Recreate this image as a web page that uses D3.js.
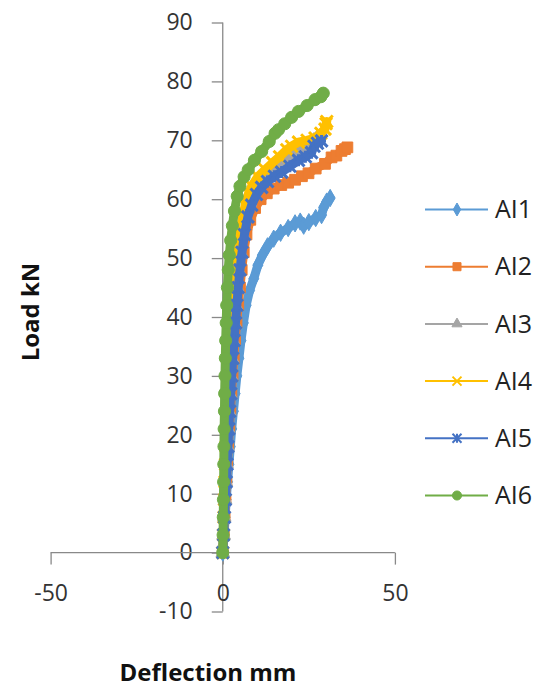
<!DOCTYPE html>
<meta charset="utf-8">
<title>load deflection</title>
<style>

body {
  margin: 0;
  background: #fff;
  font-family: "Open Sans", sans-serif;
}

.axis line {
  stroke: #898989;
  stroke-width: 1.3px;
}

.axis text {
  font-family: "Open Sans", sans-serif;
  font-size: 23px;
  fill: #333;
}

.title {
  font-family: "Open Sans", sans-serif;
  font-weight: bold;
  font-size: 24px;
  fill: #111;
}

.legend text {
  font-family: "Open Sans", sans-serif;
  font-size: 25px;
  fill: #222;
}

</style>
<svg width="536" height="689"></svg>
<script src="https://cdn.jsdelivr.net/npm/d3@7"></script>
<script>

var seriesNames = ["AI1", "AI2", "AI3", "AI4", "AI5", "AI6"];
var colorRange = ["#5B9BD5", "#ED7D31", "#A5A5A5", "#FFC000", "#4472C4", "#70AD47"];

var xTicks = [-50, 0, 50];
var yTicks = [-10, 0, 10, 20, 30, 40, 50, 60, 70, 80, 90];

// [deflection mm, load kN]
var ai1 = [[0,0],[0.4,3],[0.7,6],[1.0,9],[1.4,12],[1.8,15],[2.2,18],[2.6,21],[3.1,24],[3.6,27],[4.1,30],[4.7,33],[5.3,36],[6.0,39],[6.8,42],[7.8,44.5],[9.0,46.5],[10.2,48.8],[11.5,50.5],[13.0,52],[14.8,53.3],[16.8,54.3],[19,55.1],[21,55.9],[22.5,56.2],[23.5,55.5],[25,56.1],[27,56.8],[28.7,57.3],[29.3,58.6],[30.2,59.6],[31.2,60.2]];
var ai2 = [[0,0],[0.3,3],[0.55,6],[0.8,9],[1.05,12],[1.3,15],[1.6,18],[1.9,21],[2.2,24],[2.5,27],[2.85,30],[3.2,33],[3.6,36],[4.0,39],[4.5,42],[5.0,45],[5.5,48],[6.1,51],[6.9,54],[8.0,56.5],[9.4,58.5],[11,60],[12.8,61],[14.8,61.8],[17,62.4],[19,62.8],[21,63.3],[23,63.9],[24.9,64.4],[27,65.2],[29.7,66],[31.6,67.1],[33,67.4],[34.5,68.2],[35.5,68.5],[36.2,68.8]];
var ai3 = [[0,0],[0.25,3],[0.45,6],[0.7,9],[0.9,12],[1.1,15],[1.35,18],[1.6,21],[1.85,24],[2.1,27],[2.4,30],[2.7,33],[3.0,36],[3.4,39],[3.8,42],[4.2,45],[4.6,48],[5.2,51],[5.9,54],[6.8,57],[7.9,59.5],[9.3,61.5],[11,63],[13,64.2],[15.5,65.5],[18,66.6],[20.5,67.6],[23,68.6],[25,69.3],[26.5,70],[27.5,70.6]];
var ai4 = [[0,0],[0.2,3],[0.35,6],[0.5,9],[0.65,12],[0.8,15],[1.0,18],[1.2,21],[1.4,24],[1.65,27],[1.9,30],[2.15,33],[2.4,36],[2.7,39],[3.0,42],[3.3,45],[3.7,48],[4.2,51],[4.8,54],[5.6,56.5],[6.5,59],[7.5,61],[8.4,62.2],[10.2,63.8],[12.3,65],[14.5,66.2],[16.5,67.2],[18.6,68.4],[20,69],[22,69.7],[24.5,70],[26.8,70.4],[28.5,71.2],[29.7,71.9],[30,72.8],[30.2,73.2]];
var ai5 = [[0,0],[0.25,3],[0.5,6],[0.75,9],[1.0,12],[1.25,15],[1.5,18],[1.75,21],[2.0,24],[2.3,27],[2.6,30],[2.9,33],[3.3,36],[3.7,39],[4.1,42],[4.5,45],[5.0,48],[5.6,51],[6.3,54],[7.3,57],[8.4,59],[9.8,60.8],[11.3,62],[13,63],[15,63.9],[17.1,64.6],[19.5,65.6],[22,66.6],[24,67.2],[25.8,67.9],[26.5,69],[27.5,69.5],[28.7,69.9]];
var ai6 = [[0,0],[0.1,3],[0.15,6],[0.2,9],[0.25,12],[0.3,15],[0.35,18],[0.4,21],[0.5,24],[0.55,27],[0.65,30],[0.75,33],[0.85,36],[1.0,39],[1.15,42],[1.35,45],[1.6,48],[1.9,50.5],[2.3,53],[2.8,55.5],[3.4,58],[4.2,60.5],[5.0,62.2],[6.2,63.8],[7.4,65],[9.2,66.6],[11.3,68.1],[13.5,69.8],[15.2,71.2],[16.2,71.8],[18,72.8],[20,73.9],[22,74.9],[24.5,75.9],[26.8,76.9],[28.5,77.4],[29.2,78.0]];

var seriesData = [ai1, ai2, ai3, ai4, ai5, ai6];
var markerTypes = ["diamond", "square", "triangle", "cross", "star", "circle"];

var svg = d3.select("svg");

var x = d3.scaleLinear()
    .domain([-50, 50])
    .range([50.6, 394.9]);

var y = d3.scaleLinear()
    .domain([-10, 90])
    .range([611.5, 22.5]);

var color = d3.scaleOrdinal()
    .domain(seriesNames)
    .range(colorRange);

// marker path for a given type and size (in px)
function markerPath(type, s) {
  var h = s / 2;
  if (type == "diamond") return d3.symbol(d3.symbolDiamond, s * s * 0.6)();
  if (type == "square") return d3.symbol(d3.symbolSquare, s * s * 0.8)();
  if (type == "triangle") return d3.symbol(d3.symbolTriangle, s * s * 0.55)();
  if (type == "circle") return d3.symbol(d3.symbolCircle, s * s * 0.8)();
  if (type == "cross") return "M" + -h + "," + -h + "L" + h + "," + h + "M" + -h + "," + h + "L" + h + "," + -h;
  // star: x with a vertical bar
  return "M" + -h + "," + -h + "L" + h + "," + h + "M" + -h + "," + h + "L" + h + "," + -h + "M0," + -h + "L0," + h;
}

function isStroked(type) {
  return type == "cross" || type == "star";
}

function plain(d) { return String(d); }

// axes
var yAxis = d3.axisLeft(y)
    .tickValues(yTicks)
    .tickFormat(plain)
    .tickSize(11)
    .tickSizeOuter(0)
    .tickPadding(19);

var xAxis = d3.axisBottom(x)
    .tickValues(xTicks)
    .tickFormat(plain)
    .tickSize(12)
    .tickSizeOuter(0)
    .tickPadding(20);

svg.append("g")
    .attr("class", "axis")
    .attr("transform", "translate(" + x(0) + ",0)")
    .call(yAxis)
    .call(function(g) { g.select(".domain").remove(); });

svg.append("line")
    .attr("x1", x(0)).attr("x2", x(0))
    .attr("y1", y(90)).attr("y2", y(-10))
    .style("stroke", "#898989")
    .style("stroke-width", 1.3);

svg.append("g")
    .attr("class", "axis")
    .attr("transform", "translate(0," + y(0) + ")")
    .call(xAxis)
    .call(function(g) { g.select(".domain").remove(); });

svg.append("line")
    .attr("x1", x(-50)).attr("x2", x(50))
    .attr("y1", y(0)).attr("y2", y(0))
    .style("stroke", "#898989")
    .style("stroke-width", 1.3);

svg.selectAll(".axis text").attr("fill", "#333");

// series
var line = d3.line()
    .x(function(d) { return x(d[0]); })
    .y(function(d) { return y(d[1]); });

var series = svg.append("g")
  .selectAll("g")
    .data(seriesData)
  .enter().append("g");

series.append("path")
    .attr("d", line)
    .style("fill", "none")
    .style("stroke", function(d, i) { return color(seriesNames[i]); })
    .style("stroke-width", 9)
    .style("stroke-linejoin", "round")
    .style("stroke-linecap", "round");

series.each(function(d, i) {
  var type = markerTypes[i];
  var c = color(seriesNames[i]);
  d3.select(this).selectAll(".pt")
      .data(d)
    .enter().append("path")
      .attr("class", "pt")
      .attr("transform", function(p) { return "translate(" + x(p[0]) + "," + y(p[1]) + ")"; })
      .attr("d", markerPath(type, 12))
      .style("fill", isStroked(type) ? "none" : c)
      .style("stroke", c)
      .style("stroke-width", isStroked(type) ? 3 : 1);
});

// axis titles
svg.append("text")
    .attr("class", "title")
    .attr("transform", "translate(39,312) rotate(-90)")
    .style("text-anchor", "middle")
    .text("Load  kN");

svg.append("text")
    .attr("class", "title")
    .attr("x", 208)
    .attr("y", 681)
    .style("text-anchor", "middle")
    .text("Deflection mm");

// legend
var legend = svg.append("g")
    .attr("class", "legend")
  .selectAll("g")
    .data(seriesNames)
  .enter().append("g")
    .attr("transform", function(d, i) { return "translate(0," + (209.5 + i * 57.2) + ")"; });

legend.append("line")
    .attr("x1", 425)
    .attr("x2", 488)
    .style("stroke", function(d) { return color(d); })
    .style("stroke-width", 2);

legend.append("path")
    .attr("transform", "translate(457,0)")
    .attr("d", function(d, i) { return markerPath(markerTypes[i], 9); })
    .style("fill", function(d, i) { return isStroked(markerTypes[i]) ? "none" : color(d); })
    .style("stroke", function(d) { return color(d); })
    .style("stroke-width", function(d, i) { return isStroked(markerTypes[i]) ? 2 : 1; });

legend.append("text")
    .attr("x", 495)
    .attr("dy", "0.35em")
    .text(function(d) { return d; });

</script>
